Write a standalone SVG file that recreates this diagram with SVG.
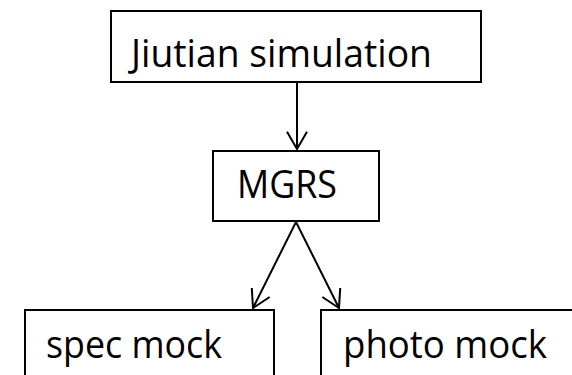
<svg xmlns="http://www.w3.org/2000/svg" width="572" height="375" viewBox="0 0 572 375">
<style>
.box{fill:#fff;stroke:#000;stroke-width:2}
.lbl{font-family:"Open Sans","Liberation Sans",sans-serif;font-size:39px;fill:#000}
.conn{stroke:#000;stroke-width:2;fill:none}
</style>
<defs>
<marker id="arr" markerUnits="userSpaceOnUse" viewBox="-20 -12 22 24" refX="0" refY="0" markerWidth="22" markerHeight="24" orient="auto" overflow="visible">
<path d="M-17.3,-10 L0,0 L-17.3,10" fill="none" stroke="#000" stroke-width="2"/>
</marker>
</defs>
<rect width="572" height="375" fill="#fff"/>
<g id="jiutian">
<rect class="box" x="111" y="11" width="370" height="71"/>
<text class="lbl" x="131" y="67" textLength="301" lengthAdjust="spacingAndGlyphs">Jiutian simulation</text>
</g>
<g id="mgrs">
<rect class="box" x="213" y="151" width="166" height="70"/>
<text class="lbl" x="237" y="198" textLength="100" lengthAdjust="spacingAndGlyphs">MGRS</text>
</g>
<g id="spec">
<rect class="box" x="25" y="310" width="249" height="80"/>
<text class="lbl" x="46" y="358" textLength="176" lengthAdjust="spacingAndGlyphs">spec mock</text>
</g>
<g id="photo">
<rect class="box" x="321" y="310" width="270" height="80"/>
<text class="lbl" x="343" y="358" textLength="204" lengthAdjust="spacingAndGlyphs">photo mock</text>
</g>
<g id="connectors">
<line class="conn" x1="297" y1="82" x2="297" y2="149" marker-end="url(#arr)"/>
<line class="conn" x1="296" y1="222" x2="253" y2="308" marker-end="url(#arr)"/>
<line class="conn" x1="296" y1="222" x2="339" y2="308" marker-end="url(#arr)"/>
</g>
</svg>
